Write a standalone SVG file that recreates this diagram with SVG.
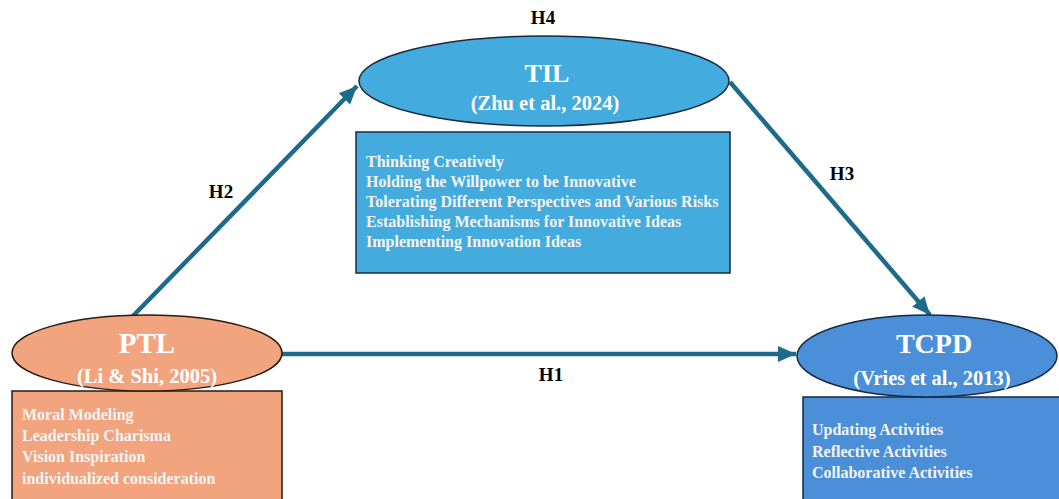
<svg xmlns="http://www.w3.org/2000/svg" width="1059" height="499" viewBox="0 0 1059 499">
<style>
.ptl{fill:#F2A47F;stroke:#2a1a12;stroke-width:1.5}
.til{fill:#44ABDF;stroke:#1a2a3a;stroke-width:1.5}
.tcpd{fill:#4A8FD8;stroke:#142a44;stroke-width:1.5}
.t{font-family:"Liberation Serif","Times New Roman",serif;font-weight:bold;fill:#fff}
.lbl{font-family:"Liberation Serif","Times New Roman",serif;font-weight:bold;fill:#000;font-size:19px;text-anchor:middle}
.arr{stroke:#1D6A8A;stroke-width:4.5;fill:none;marker-end:url(#ah)}
.big{text-anchor:middle}
.item{font-size:16px;fill:#f4f4f4}
</style>
<defs>
<marker id="ah" markerUnits="userSpaceOnUse" markerWidth="20" markerHeight="20" viewBox="0 0 20 20" refX="18" refY="10" orient="auto">
<path d="M0,2 L18,10 L0,18 Z" fill="#1D6A8A"/>
</marker>
</defs>
<rect width="1059" height="499" fill="#fff"/>
<g id="connectors">
<line class="arr" x1="132" y1="317" x2="357" y2="86"/>
<line class="arr" x1="730" y1="82" x2="930" y2="315"/>
<line class="arr" x1="281" y1="354" x2="796" y2="354"/>
<text class="lbl" x="543" y="24">H4</text>
<text class="lbl" x="221" y="198">H2</text>
<text class="lbl" x="842" y="180">H3</text>
<text class="lbl" x="551" y="381">H1</text>
</g>
<g id="PTL">
<rect class="ptl" x="12" y="391" width="270" height="110"/>
<ellipse class="ptl" cx="147" cy="353" rx="135" ry="38"/>
<text class="t big" x="147" y="353" font-size="29">PTL</text>
<text class="t big" x="147" y="383" font-size="20.5">(Li &amp; Shi, 2005)</text>
<text class="t item" x="22" y="420">Moral Modeling</text>
<text class="t item" x="22" y="441">Leadership Charisma</text>
<text class="t item" x="22" y="462">Vision Inspiration</text>
<text class="t item" x="22" y="484">individualized consideration</text>
</g>
<g id="TIL">
<ellipse class="til" cx="544" cy="81" rx="185" ry="45"/>
<text class="t big" x="547" y="82" font-size="26">TIL</text>
<text class="t big" x="545" y="110" font-size="20.5">(Zhu et al., 2024)</text>
<rect class="til" x="356" y="132" width="374" height="141"/>
<text class="t item" x="366" y="167">Thinking Creatively</text>
<text class="t item" x="366" y="187">Holding the Willpower to be Innovative</text>
<text class="t item" x="366" y="207">Tolerating Different Perspectives and Various Risks</text>
<text class="t item" x="366" y="227">Establishing Mechanisms for Innovative Ideas</text>
<text class="t item" x="366" y="247">Implementing Innovation Ideas</text>
</g>
<g id="TCPD">
<rect class="tcpd" x="803" y="397" width="260" height="110"/>
<ellipse class="tcpd" cx="927" cy="356" rx="130" ry="41"/>
<text class="t big" x="934" y="353" font-size="28">TCPD</text>
<text class="t big" x="932" y="385" font-size="20.5">(Vries et al., 2013)</text>
<text class="t item" x="812" y="435">Updating Activities</text>
<text class="t item" x="812" y="457">Reflective Activities</text>
<text class="t item" x="812" y="478">Collaborative Activities</text>
</g>
</svg>
